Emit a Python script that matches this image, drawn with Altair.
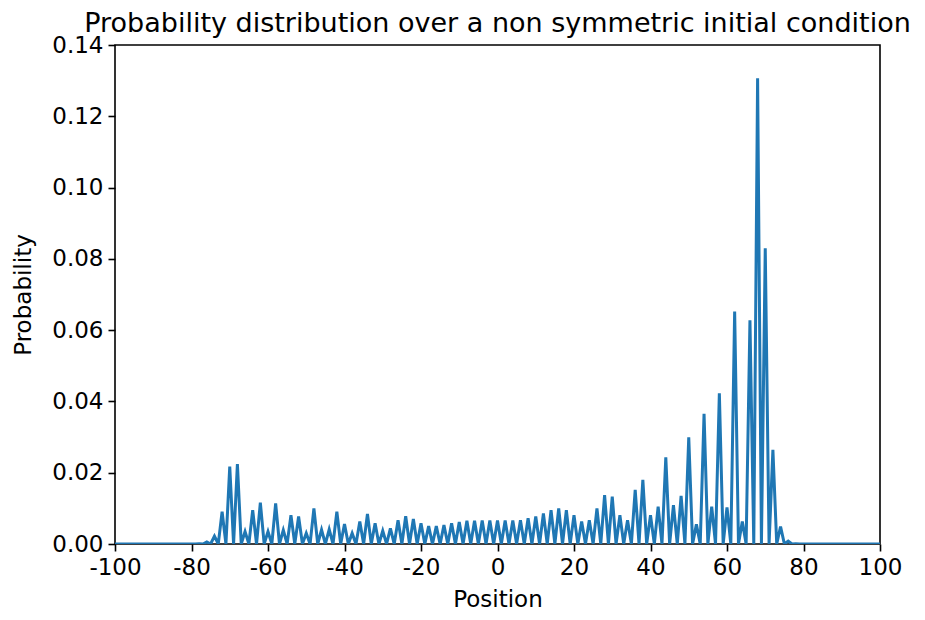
import altair as alt
import pandas as pd

# Probabilities at even positions (odd positions are zero)
even_positions = list(range(-78, 79, 2))
even_probs = [
    0.0001, 0.0006, 0.0022, 0.0091, 0.0217, 0.0224, 0.0035, 0.0095, 0.0116, 0.0035,
    0.0114, 0.0039, 0.0081, 0.0077, 0.0030, 0.0100, 0.0040, 0.0041, 0.0091, 0.0056,
    0.0030, 0.0063, 0.0084, 0.0058, 0.0037, 0.0044, 0.0067, 0.0078, 0.0070, 0.0058,
    0.0050, 0.0050, 0.0053, 0.0058, 0.0062, 0.0065, 0.0065, 0.0066, 0.0066, 0.0066,
    0.0066, 0.0066, 0.0067, 0.0072, 0.0077, 0.0086, 0.0095, 0.0100, 0.0095, 0.0081,
    0.0063, 0.0067, 0.0100, 0.0137, 0.0133, 0.0081, 0.0067, 0.0152, 0.0180, 0.0081,
    0.0105, 0.0243, 0.0109, 0.0135, 0.0299, 0.0055, 0.0365, 0.0105, 0.0423, 0.0103,
    0.0652, 0.0063, 0.0628, 0.1307, 0.0830, 0.0264, 0.0049, 0.0008, 0.0001,
]
all_positions = list(range(-100, 101))
x_ticks = list(range(-100, 101, 20))
y_ticks = [0.0, 0.02, 0.04, 0.06, 0.08, 0.10, 0.12, 0.14]

lookup = dict(zip(even_positions, even_probs))
df = pd.DataFrame({
    "Position": all_positions,
    "Probability": [lookup.get(p, 0.0) for p in all_positions],
})

FONT = "DejaVu Sans"

chart = (
    alt.Chart(df)
    .mark_line(color="#1f77b4", strokeWidth=3, clip=True)
    .encode(
        x=alt.X(
            "Position:Q",
            scale=alt.Scale(domain=[-100, 100], nice=False, zero=False),
            axis=alt.Axis(values=x_ticks, labelExpr="'' + datum.value",
                          labelFlush=False, title="Position", titlePadding=9),
        ),
        y=alt.Y(
            "Probability:Q",
            scale=alt.Scale(domain=[0, 0.14], nice=False),
            axis=alt.Axis(values=y_ticks, format=".2f", labelFlush=False,
                          title="Probability", titlePadding=16),
        ),
    )
    .properties(
        width=765,
        height=499,
        title=alt.TitleParams(
            "Probability distribution over a non symmetric initial condition",
            font=FONT, fontSize=27, fontWeight="normal", color="black",
            anchor="middle", offset=-4,
        ),
        autosize=alt.AutoSizeParams(type="none"),
        padding={"left": 107, "top": 37, "right": 37, "bottom": 68},
    )
    .configure_view(stroke="black", strokeWidth=1.6)
    .configure_axis(
        domain=False, grid=False,
        tickColor="black", tickWidth=1.6, tickSize=7,
        labelFont=FONT, labelFontSize=23, labelColor="black", labelPadding=5,
        titleFont=FONT, titleFontSize=23, titleFontWeight="normal", titleColor="black",
    )
)

chart.save("out.html", embed_options={"renderer": "svg", "actions": False})
